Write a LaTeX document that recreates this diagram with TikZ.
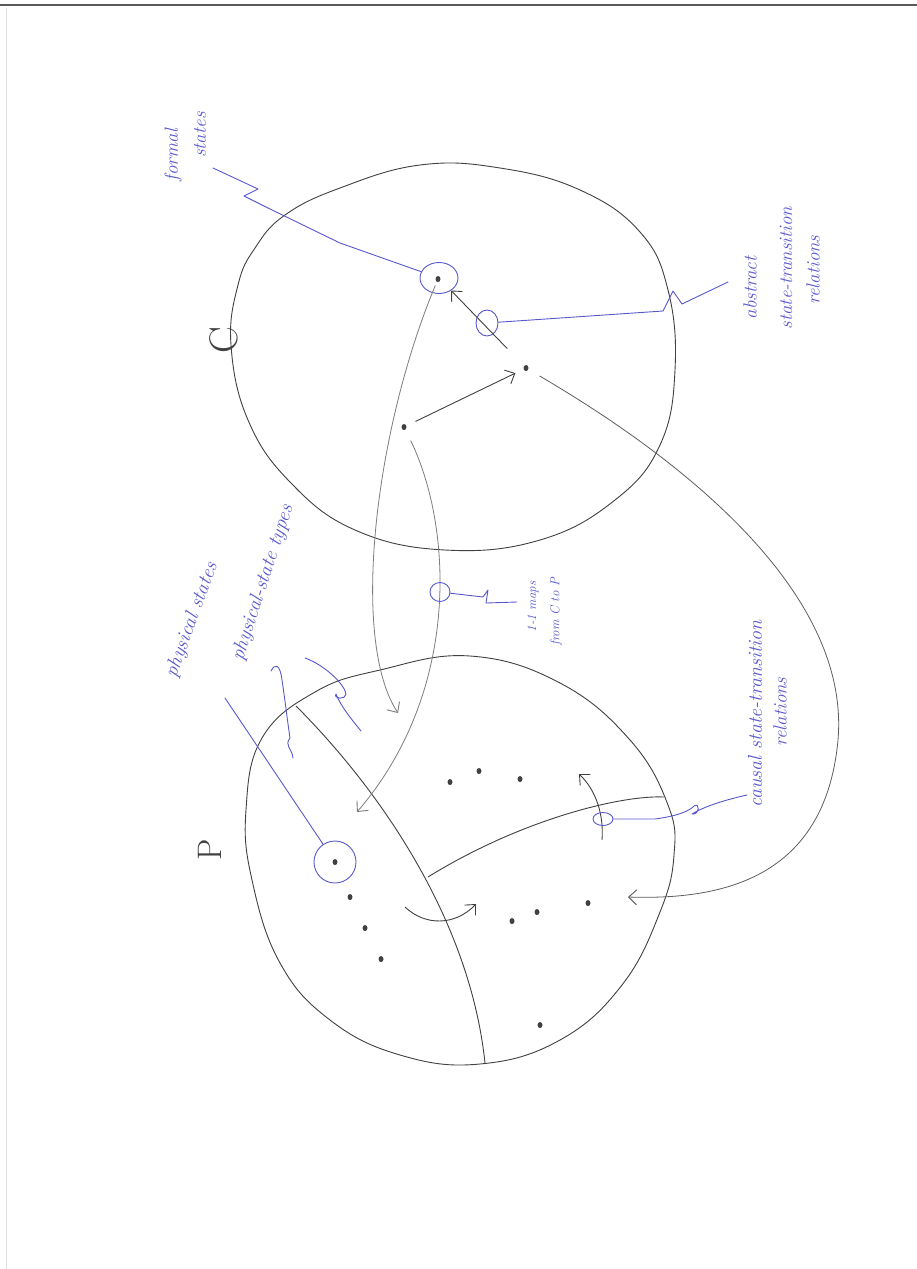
\documentclass[tikz,border=0pt]{standalone}
\usetikzlibrary{arrows.meta,shapes.geometric}
\definecolor{ink}{RGB}{88,88,205}
\definecolor{pencil}{RGB}{65,65,65}
\definecolor{mapgray}{RGB}{125,125,125}
\begin{document}
\begin{tikzpicture}[x=1pt,y=-1pt,
  pen/.style={draw=pencil, line width=0.9pt},
  mapline/.style={draw=mapgray, line width=0.8pt},
  inkline/.style={draw=ink, line width=0.9pt, line join=round, line cap=round},
  tip/.style={-{Straight Barb[length=8pt,width=15pt,line width=0.9pt]}},
  dot/.style={ellipse, fill=pencil, inner sep=0pt, minimum width=5pt, minimum height=6pt},
  ring/.style={ellipse, draw=ink, line width=0.9pt, inner sep=0pt},
  lbl/.style={text=ink, font=\itshape\fontsize{19}{21}\selectfont, rotate=90, inner sep=0pt},
  small/.style={text=ink, font=\itshape\fontsize{13}{15}\selectfont, rotate=90, inner sep=0pt},
  big/.style={text=pencil, font=\fontsize{40}{44}\selectfont, rotate=90, inner sep=0pt}]
\useasboundingbox (0,0) rectangle (917,1269);
\fill[white] (0,0) rectangle (917,1269);
% scan edges
\coordinate (tl) at (0,5); \coordinate (tr) at (917,5);
\draw[draw=gray!70!black, line width=1.6pt] (tl) -- (tr);
\coordinate (lt) at (6,8); \coordinate (lb) at (6,1269);
\draw[draw=gray!25, line width=1pt] (lt) -- (lb);

% ---------- C ----------
\draw[pen] plot[smooth cycle, tension=0.7] coordinates {
 (420,165) (500,168) (580,190) (640,232) (668,290) (675,370) (660,445)
 (615,500) (540,540) (445,550) (355,530) (290,482) (248,420) (231,345)
 (238,285) (255,248) (285,215) (340,188)};
\node[big] (Clabel) at (224,340) {C};

\node[dot] (fsd) at (438,279) {};
\node[ring, minimum width=38pt, minimum height=31pt] (fs) at (439,278) {};
\node[dot] (ca) at (404,427) {};
\node[dot] (cb) at (526,368) {};
\node[ring, minimum width=22pt, minimum height=26pt] (ar) at (487,323) {};

\draw[pen, tip, shorten <=10pt, shorten >=9pt] (ca) -- (cb);
\draw[pen, tip, shorten <=24pt] (cb) -- (fs);

% ---------- P ----------
\draw[pen] plot[smooth cycle, tension=0.7] coordinates {
 (380,670) (470,656) (560,683) (630,740) (668,805) (674,855) (660,912)
 (622,985) (560,1040) (480,1064) (400,1055) (330,1020) (280,963)
 (252,880) (246,810) (262,738) (315,692)};
\node[big, font=\fontsize{34}{38}\selectfont] (Plabel) at (210,850) {P};

\coordinate (d1a) at (296,706);
\coordinate (d1b) at (485,1063);
\coordinate (junc) at (428,877);
\coordinate (d2b) at (664,797);
\draw[pen] (d1a) .. controls (380,790) and (470,920) .. (d1b);
\draw[pen] (junc) .. controls (520,820) and (620,795) .. (d2b);

\node[dot] (p0) at (335,862) {};
\node[ring, minimum width=42pt, minimum height=42pt] (ps) at (335,862) {};
\node[dot] (p1) at (350,897) {};
\node[dot] (p2) at (365,928) {};
\node[dot] (p3) at (381,959) {};
\node[dot] (p4) at (450,782) {};
\node[dot] (p5) at (479,771) {};
\node[dot] (p6) at (520,779) {};
\node[dot] (p7) at (512,921) {};
\node[dot] (p8) at (537,912) {};
\node[dot] (p9) at (588,903) {};
\node[dot] (p10) at (540,1025) {};

% curved arrows inside P
\coordinate (ca1s) at (405,907); \coordinate (ca1e) at (476,904);
\draw[pen, tip] (ca1s) .. controls (425,926) and (455,926) .. (ca1e);
\coordinate (ca2s) at (602,840); \coordinate (ca2e) at (579,774);
\draw[pen, tip] (ca2s) .. controls (604,815) and (596,790) .. (ca2e);
\node[ring, minimum width=20pt, minimum height=13pt] (cr) at (603,819) {};

% ---------- maps C -> P ----------
\coordinate (m1e) at (398,713);
\draw[mapline, tip, shorten <=4pt] (fsd) .. controls (375,430) and (350,640) .. (m1e);
\coordinate (m2e) at (357,812);
\draw[mapline, tip, shorten <=12pt] (ca) .. controls (452,525) and (462,690) .. (m2e);
\node[ring, minimum width=20pt, minimum height=19pt] (mr) at (440,592) {};
\coordinate (m3e) at (628,897);
\draw[mapline, draw=pencil!85, tip, shorten <=13pt] (cb) .. controls (700,470) and (850,600) .. (838,740)
   .. controls (825,880) and (720,900) .. (m3e);

% ---------- blue pointers ----------
\coordinate (fpe) at (213,168);
\draw[inkline] (fs) -- (340,243) -- (268,208) -- (244,196) -- (258,189) -- (fpe);
\coordinate (ape) at (728,282);
\draw[inkline] (ar) -- (663,311) -- (673,291) -- (682,304) -- (ape);
\coordinate (mpe) at (517,602);
\draw[inkline] (mr) -- (483,597) -- (488,590) -- (486,603) -- (mpe);
\coordinate (cpe) at (747,795);
\draw[inkline] (cr) -- (655,819) .. controls (685,815) and (692,808) .. (694,806)
   .. controls (700,802) and (700,815) .. (692,814) .. controls (705,806) and (725,800) .. (cpe);
\coordinate (ppe) at (225,698);
\draw[inkline] (ps) -- (ppe);
\coordinate (h1s) at (271,671); \coordinate (h1e) at (293,758);
\draw[inkline] (h1s) .. controls (275,663) and (280,664) .. (282,680)
   .. controls (285,700) and (288,725) .. (290,738) .. controls (284,746) and (292,748) .. (h1e);
\coordinate (h2s) at (305,658); \coordinate (h2e) at (361,731);
\draw[inkline] (h2s) .. controls (325,665) and (345,685) .. (346,694)
   .. controls (346,700) and (333,699) .. (336,694) .. controls (340,705) and (352,720) .. (h2e);

% ---------- labels ----------
\node[lbl] (t1) at (173,155) {formal};
\node[lbl] (t2) at (200,135) {states};
\node[lbl] (t3) at (750,288) {abstract};
\node[lbl] (t4) at (786,268) {state-transition};
\node[lbl] (t5) at (813,270) {relations};
\node[small] (t6) at (533,607) {1-1 maps};
\node[small] (t7) at (556,612) {from C to P};
\node[lbl, font=\itshape\fontsize{20}{22}\selectfont] (t8) at (755,714) {causal state-transition};
\node[lbl] (t9) at (780,712) {relations};
\node[lbl, rotate=-20, font=\itshape\fontsize{20}{22}\selectfont] (t10) at (192,620) {physical states};
\node[lbl, rotate=-18, font=\itshape\fontsize{20}{22}\selectfont] (t11) at (263,583) {physical-state types};
\end{tikzpicture}
\end{document}
